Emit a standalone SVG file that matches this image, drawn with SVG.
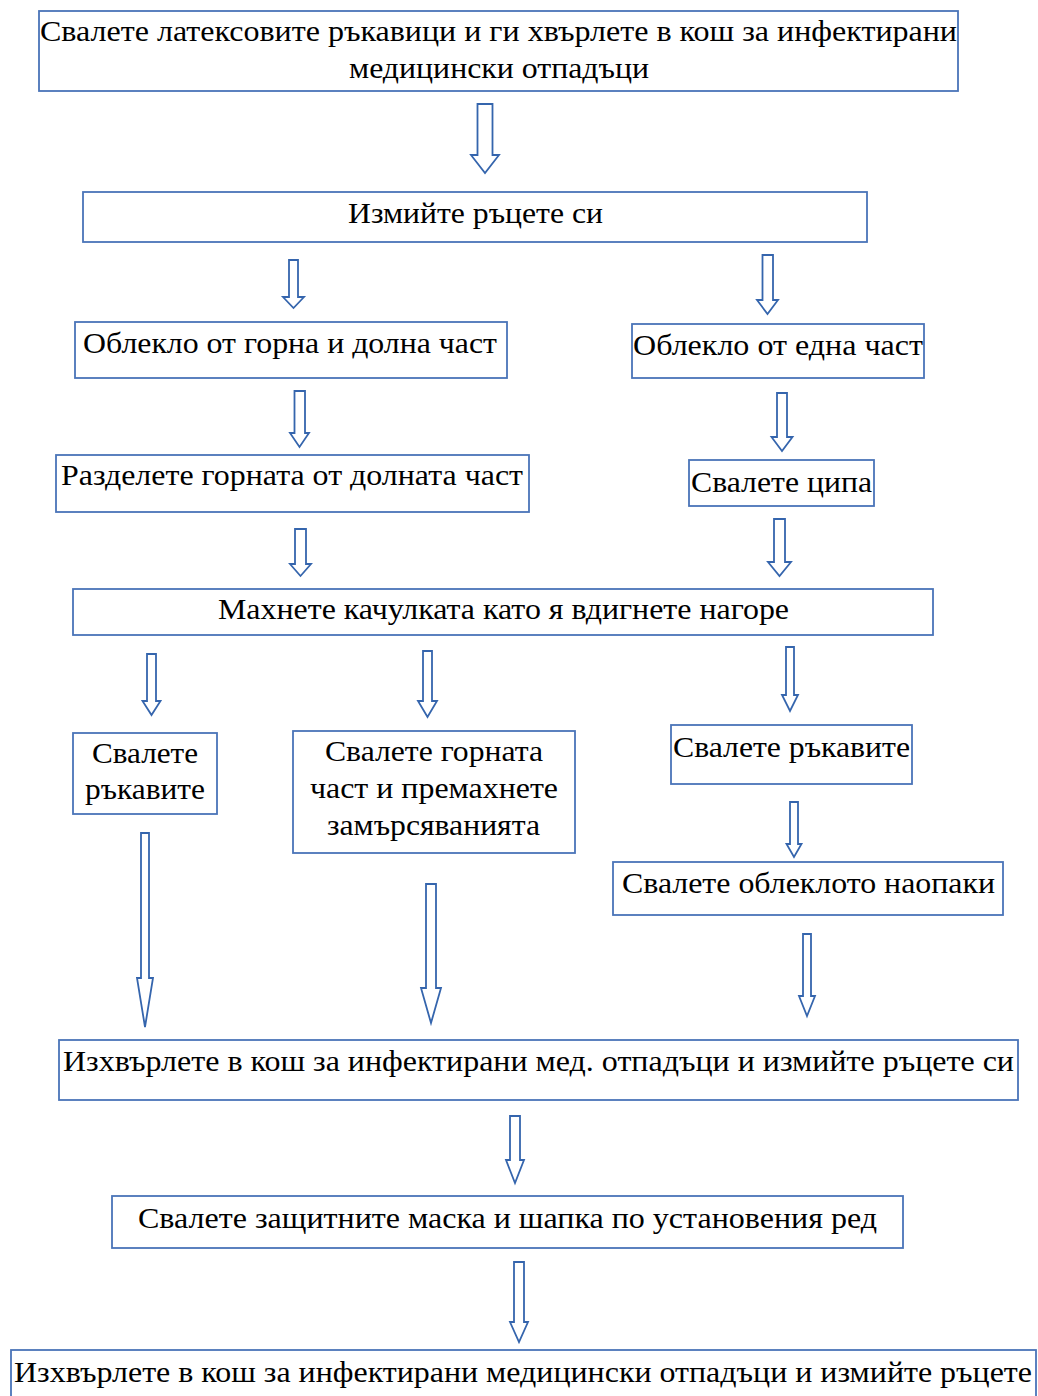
<svg xmlns="http://www.w3.org/2000/svg" width="1038" height="1396" viewBox="0 0 1038 1396">
<style>
.box{fill:#ffffff;stroke:#4a74b8;stroke-width:1.8}
.arr{fill:#ffffff;stroke:#3565ad;stroke-width:1.8;stroke-linejoin:miter}
text{font-family:"Liberation Serif","Times New Roman",serif;font-size:30px;fill:#000000}
</style>
<rect width="1038" height="1396" fill="#ffffff"/>
<g id="connectors">
<polygon class="arr" points="477.5,104 492.5,104 492.5,155 499,155 485,173 471,155 477.5,155"/>
<polygon class="arr" points="289,260 298,260 298,297 304,297 293.5,308 283,297 289,297"/>
<polygon class="arr" points="762.5,255 773,255 773,300 778,300 767.5,314 757,300 762.5,300"/>
<polygon class="arr" points="294.5,391 305,391 305,433 309,433 299.5,447 290,433 294.5,433"/>
<polygon class="arr" points="777,393 787,393 787,437 792.5,437 782,451 771.5,437 777,437"/>
<polygon class="arr" points="295,529 306,529 306,564 311,564 300.5,576 290,564 295,564"/>
<polygon class="arr" points="774,519 785,519 785,562 791,562 779.5,576 768,562 774,562"/>
<polygon class="arr" points="147,654 156,654 156,701 160.5,701 151.5,715 142.5,701 147,701"/>
<polygon class="arr" points="423,651 432,651 432,701 437,701 427.5,717 418,701 423,701"/>
<polygon class="arr" points="786,647 794,647 794,695 798,695 790,711 782,695 786,695"/>
<polygon class="arr" points="790,802 798,802 798,844 801.5,844 794,857 786.5,844 790,844"/>
<polygon class="arr" points="141,833 149,833 149,978 153,978 145,1027 137,978 141,978"/>
<polygon class="arr" points="426,884 436,884 436,988 441,988 431,1023 421,988 426,988"/>
<polygon class="arr" points="803,934 811,934 811,996 815,996 807,1016 799,996 803,996"/>
<polygon class="arr" points="510,1116 520,1116 520,1160 524,1160 515,1183 506,1160 510,1160"/>
<polygon class="arr" points="514,1262 524,1262 524,1322 528,1322 519,1342 510,1322 514,1322"/>
</g>
<g id="n1">
<rect class="box" x="39" y="11" width="919" height="80"/>
<text x="40" y="41" textLength="917" lengthAdjust="spacingAndGlyphs">Свалете латексовите ръкавици и ги хвърлете в кош за инфектирани</text>
<text x="349" y="78" textLength="300" lengthAdjust="spacingAndGlyphs">медицински отпадъци</text>
</g>
<g id="n2">
<rect class="box" x="83" y="192" width="784" height="50"/>
<text x="348" y="223" textLength="255" lengthAdjust="spacingAndGlyphs">Измийте ръцете си</text>
</g>
<g id="n3">
<rect class="box" x="75" y="322" width="432" height="56"/>
<text x="83" y="353" textLength="414" lengthAdjust="spacingAndGlyphs">Облекло от горна и долна част</text>
</g>
<g id="n4">
<rect class="box" x="632" y="324" width="292" height="54"/>
<text x="633" y="355" textLength="290" lengthAdjust="spacingAndGlyphs">Облекло от една част</text>
</g>
<g id="n5">
<rect class="box" x="56" y="455" width="473" height="57"/>
<text x="61" y="485" textLength="462" lengthAdjust="spacingAndGlyphs">Разделете горната от долната част</text>
</g>
<g id="n6">
<rect class="box" x="689" y="460" width="185" height="46"/>
<text x="691" y="492" textLength="181" lengthAdjust="spacingAndGlyphs">Свалете ципа</text>
</g>
<g id="n7">
<rect class="box" x="73" y="589" width="860" height="46"/>
<text x="218" y="619" textLength="571" lengthAdjust="spacingAndGlyphs">Махнете качулката като я вдигнете нагоре</text>
</g>
<g id="n8">
<rect class="box" x="73" y="733" width="144" height="81"/>
<text x="92" y="763" textLength="106" lengthAdjust="spacingAndGlyphs">Свалете</text>
<text x="85" y="799" textLength="120" lengthAdjust="spacingAndGlyphs">ръкавите</text>
</g>
<g id="n9">
<rect class="box" x="293" y="731" width="282" height="122"/>
<text x="325" y="761" textLength="218" lengthAdjust="spacingAndGlyphs">Свалете горната</text>
<text x="310" y="798" textLength="248" lengthAdjust="spacingAndGlyphs">част и премахнете</text>
<text x="327" y="835" textLength="213" lengthAdjust="spacingAndGlyphs">замърсяванията</text>
</g>
<g id="n10">
<rect class="box" x="671" y="725" width="241" height="59"/>
<text x="673" y="757" textLength="237" lengthAdjust="spacingAndGlyphs">Свалете ръкавите</text>
</g>
<g id="n11">
<rect class="box" x="613" y="862" width="390" height="53"/>
<text x="622" y="893" textLength="373" lengthAdjust="spacingAndGlyphs">Свалете облеклото наопаки</text>
</g>
<g id="n12">
<rect class="box" x="59" y="1040" width="959" height="60"/>
<text x="63" y="1071" textLength="951" lengthAdjust="spacingAndGlyphs">Изхвърлете в кош за инфектирани мед. отпадъци и измийте ръцете си</text>
</g>
<g id="n13">
<rect class="box" x="112" y="1196" width="791" height="52"/>
<text x="138" y="1228" textLength="739" lengthAdjust="spacingAndGlyphs">Свалете защитните маска и шапка по установения ред</text>
</g>
<g id="n14">
<rect class="box" x="11" y="1350" width="1025" height="60"/>
<text x="14" y="1382" textLength="1018" lengthAdjust="spacingAndGlyphs">Изхвърлете в кош за инфектирани медицински отпадъци и измийте ръцете</text>
</g>
</svg>
